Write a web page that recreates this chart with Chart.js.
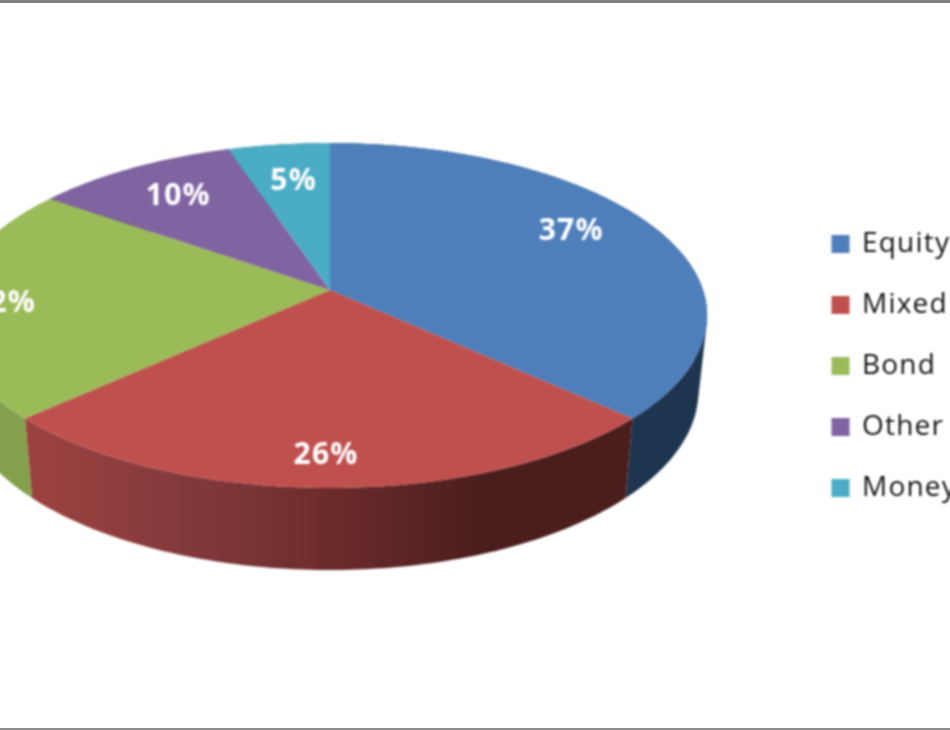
<!DOCTYPE html>
<html>
<head>
<meta charset="utf-8">
<title>Fund types</title>
<script src="https://cdn.jsdelivr.net/npm/chart.js@4"></script>
<style>
    html, body { margin: 0; padding: 0; background: #fff; overflow: hidden; }
    #frame { position: relative; width: 950px; height: 730px; overflow: hidden; }
    #frame:before, #frame:after { content: ''; position: absolute; left: 0; right: 0; z-index: 2; }
    #frame:before { top: 0; height: 3px; background: #808080; }
    #frame:after { bottom: 0; height: 2px; background: #8c8c8c; }
    /* canvas runs past the frame so the blur does not fade at the cut edges */
    canvas { display: block; position: absolute; left: -20px; top: 0; filter: blur(0.8px); }
</style>
</head>
<body>
<div id="frame"><canvas id="pieChart" width="1000" height="730"></canvas></div>
<script>
// data
const fundTypes = ['Equity', 'Mixed', 'Bond', 'Other', 'Money Market'];
const fundShares = [37, 26, 22, 10, 5];

// colours
const topColors = ['#4E7FBB', '#C0504D', '#9BBB59', '#8064A2', '#4BACC6'];
const sideColors = ['#1E3550', null, '#85A04D', '#4D3C62', '#2D6777'];

// perspective of the 3d look
const pie = { cx: 350, cy: 290, rx: 373, rxLeft: 376, ry: 168.7, tilt: 0.148, shrink: 0.977, depth: 74, depthFront: 8 };

// label shift from the default spot on the slice
const labelShift = [[11, -14], [-4, 34], [-62, 6], [-9, -5], [1, -3]];

function project(angle, r, lower) {
    const u = Math.cos(angle) * r;
    const v = Math.sin(angle) * r;
    const w = 1 - pie.tilt * v;
    let x = (u < 0 ? pie.rxLeft : pie.rx) * u / w;
    let y = pie.cy + pie.ry * v / w;
    if (lower) {
        x = x * pie.shrink;
        y = y + pie.depth + pie.depthFront * v;
    }
    return [pie.cx + x, y];
}

function curve(ctx, from, to) {
    const steps = Math.max(8, Math.ceil(Math.abs(to - from) * 60));
    for (let i = 0; i <= steps; i++) {
        const p = project(from + (to - from) * i / steps, 1, false);
        ctx.lineTo(p[0], p[1]);
    }
}

function signedArea(pts) {
    let sum = 0;
    pts.forEach((p, i) => {
        const q = pts[(i + 1) % pts.length];
        sum += p[0] * q[1] - q[0] * p[1];
    });
    return sum;
}

// side wall as a sweep of small quads, gives the straight edge on the right
function wall(ctx, from, to) {
    const steps = Math.max(8, Math.ceil(Math.abs(to - from) * 60));
    for (let i = 0; i < steps; i++) {
        const a = from + (to - from) * i / steps;
        const b = from + (to - from) * (i + 1) / steps;
        const quad = [project(a, 1, false), project(b, 1, false), project(b, 1, true), project(a, 1, true)];
        // same winding for all, otherwise overlaps cancel out at the silhouette
        if (signedArea(quad) < 0) quad.reverse();
        ctx.moveTo(quad[0][0], quad[0][1]);
        ctx.lineTo(quad[1][0], quad[1][1]);
        ctx.lineTo(quad[2][0], quad[2][1]);
        ctx.lineTo(quad[3][0], quad[3][1]);
        ctx.closePath();
    }
}

const pie3d = {
    id: 'pie3d',
    beforeDatasetDraw(chart) {
        const ctx = chart.ctx;
        const arcs = chart.getDatasetMeta(0).data;
        ctx.save();

        // side wall first, top faces paint over the hidden part
        arcs.forEach((arc, i) => {
            let fill = sideColors[i];
            if (!fill) {
                fill = ctx.createLinearGradient(45, 0, 645, 0);
                fill.addColorStop(0, '#9C4341');
                fill.addColorStop(0.3, '#80383A');
                fill.addColorStop(0.5, '#6D2C2B');
                fill.addColorStop(0.76, '#4B1E1E');
                fill.addColorStop(1, '#4B1E1E');
            }
            ctx.fillStyle = fill;
            ctx.beginPath();
            wall(ctx, arc.startAngle, arc.endAngle);
            ctx.fill();
        });

        arcs.forEach((arc, i) => {
            ctx.fillStyle = topColors[i];
            ctx.beginPath();
            ctx.moveTo(pie.cx, pie.cy);
            curve(ctx, arc.startAngle, arc.endAngle);
            ctx.closePath();
            ctx.fill();
        });

        // percent labels
        ctx.fillStyle = '#fff';
        ctx.font = 'bold 30px "Open Sans"';
        ctx.textAlign = 'center';
        ctx.textBaseline = 'middle';
        arcs.forEach((arc, i) => {
            const p = project((arc.startAngle + arc.endAngle) / 2, 0.7, false);
            ctx.fillText(fundShares[i] + '%', p[0] + labelShift[i][0], p[1] + labelShift[i][1]);
        });

        ctx.restore();
        return false;
    }
};

// move the legend to where the original sits
const legendSpot = {
    id: 'legendSpot',
    afterLayout(chart) {
        const legend = chart.legend;
        legend.left = 820;
        legend.right = 1200;
        legend.top = 197;
        legend.bottom = 720;
    },
    beforeDraw(chart) {
        chart.ctx.letterSpacing = '1.2px';
    }
};

new Chart(document.getElementById('pieChart'), {
    type: 'pie',
    data: {
        labels: fundTypes,
        datasets: [{
            data: fundShares,
            backgroundColor: topColors,
            borderColor: topColors,
            borderWidth: 3
        }]
    },
    options: {
        responsive: false,
        animation: false,
        plugins: {
            legend: {
                position: 'right',
                align: 'start',
                labels: {
                    color: '#111',
                    boxWidth: 15,
                    boxHeight: 15,
                    padding: 33,
                    font: { family: '"Open Sans"', size: 28 }
                }
            },
            tooltip: { enabled: false }
        }
    },
    plugins: [pie3d, legendSpot]
});
</script>
</body>
</html>
